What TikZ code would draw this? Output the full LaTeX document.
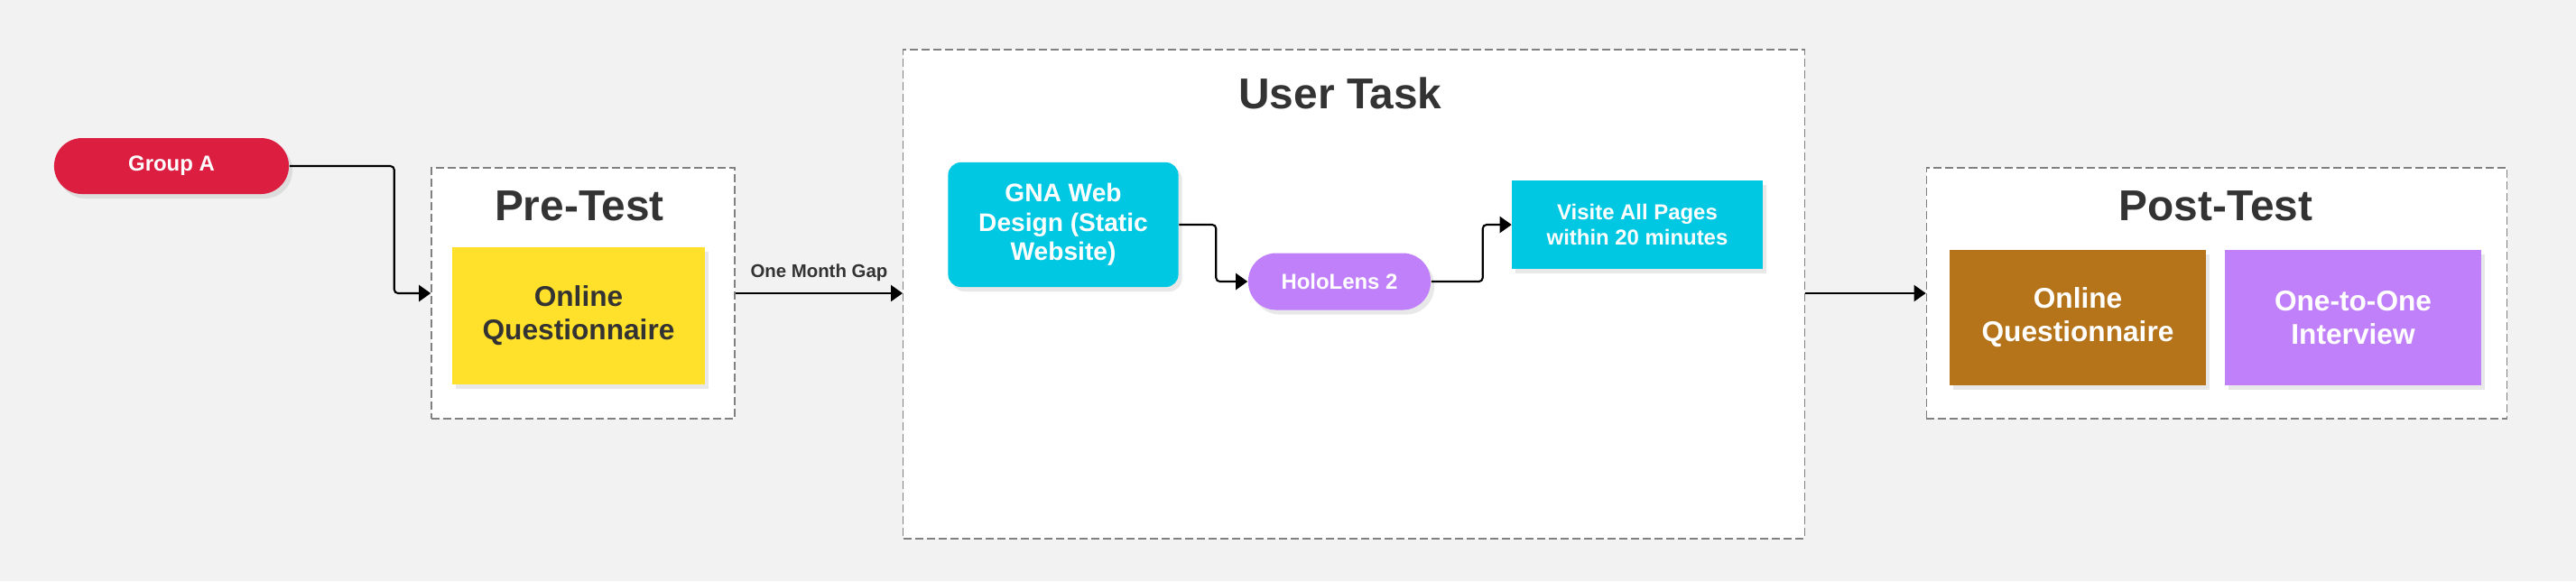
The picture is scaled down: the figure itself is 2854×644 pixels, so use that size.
\documentclass[tikz,border=0pt]{standalone}
\usepackage{fontspec}
\setmainfont{Liberation Sans}
\usetikzlibrary{arrows.meta,shadows}
\definecolor{BackClr}{RGB}{242,242,242}
\definecolor{FrameClr}{RGB}{128,128,128}
\definecolor{TextClr}{RGB}{51,51,51}
\definecolor{GroupClr}{RGB}{220,31,64}
\definecolor{YellowClr}{RGB}{255,224,42}
\definecolor{CyanClr}{RGB}{0,200,226}
\definecolor{LilacClr}{RGB}{192,128,250}
\definecolor{BrownClr}{RGB}{181,115,26}

\begin{document}
\begin{tikzpicture}[x=0.01cm,y=-0.01cm,
  grpbox/.style={draw=FrameClr,fill=white,line width=0.4pt,dash pattern=on 0.09cm off 0.04cm,inner sep=0pt},
  title/.style={text=TextClr,font=\fontsize{13.6}{16}\selectfont\bfseries,inner sep=0pt},
  fillbox/.style={inner sep=0pt,align=center,font=\bfseries,
    drop shadow={shadow xshift=0.04cm,shadow yshift=-0.05cm,opacity=0.18}},
  pillbox/.style={fillbox,rounded corners=0.31cm,text=white,
    font=\fontsize{6.8}{8}\selectfont\bfseries},
  flow/.style={draw=black,line width=0.6pt,rounded corners=1.2pt,
    -{Triangle[length=0.13cm,width=0.18cm]}}]
\useasboundingbox (0,0) rectangle (2854,644);
\fill[BackClr] (0,0) rectangle (2854,644);

% containers
\node[grpbox,minimum width=3.36cm,minimum height=2.78cm] (pre) at (646,325) {};
\node[grpbox,minimum width=9.98cm,minimum height=5.42cm] (task) at (1500,326) {};
\node[grpbox,minimum width=6.43cm,minimum height=2.78cm] (post) at (2456,325) {};

\node[title] (preT) at (642,228) {Pre-Test};
\node[title] (taskT) at (1485,103) {User Task};
\node[title] (postT) at (2455,228) {Post-Test};

% start
\node[pillbox,fill=GroupClr,minimum width=2.6cm,minimum height=0.62cm] (grpA) at (190,184) {Group A};

% pre-test
\node[fillbox,fill=YellowClr,text=TextClr,minimum width=2.79cm,minimum height=1.51cm,
  font=\fontsize{9}{10.5}\selectfont\bfseries] (preQ) at (641,350) {Online\\Questionnaire};

% user task
\node[fillbox,fill=CyanClr,text=white,rounded corners=0.14cm,minimum width=2.55cm,minimum height=1.38cm,
  font=\fontsize{8}{9.2}\selectfont\bfseries] (gna) at (1178,249) {GNA Web\\Design (Static\\Website)};
\node[pillbox,fill=LilacClr,minimum width=2.02cm,minimum height=0.63cm] (holo) at (1484,312) {HoloLens 2};
\node[fillbox,fill=CyanClr,text=white,minimum width=2.77cm,minimum height=0.98cm,
  font=\fontsize{6.8}{7.8}\selectfont\bfseries] (visit) at (1814,249) {Visite All Pages\\within 20 minutes};

% post-test
\node[fillbox,fill=BrownClr,text=white,minimum width=2.83cm,minimum height=1.5cm,
  font=\fontsize{9}{10.5}\selectfont\bfseries] (postQ) at (2302,352) {Online\\Questionnaire};
\node[fillbox,fill=LilacClr,text=white,minimum width=2.83cm,minimum height=1.5cm,
  font=\fontsize{9}{10.5}\selectfont\bfseries] (intv) at (2607,352) {One-to-One\\Interview};

% connectors
\draw[flow] (grpA.east) -- ++(116,0) |- (pre.west);
\draw[flow] (pre.east) -- node[above=3.5pt,inner sep=0pt,text=TextClr,font=\fontsize{5.8}{7}\selectfont\bfseries] {One Month Gap} (task.west |- pre.east);
\draw[flow] (gna.east) -- ++(41,0) |- (holo.west);
\draw[flow] (holo.east) -- ++(57,0) |- (visit.west);
\draw[flow] (task.east |- post.west) -- (post.west);

\end{tikzpicture}
\end{document}
